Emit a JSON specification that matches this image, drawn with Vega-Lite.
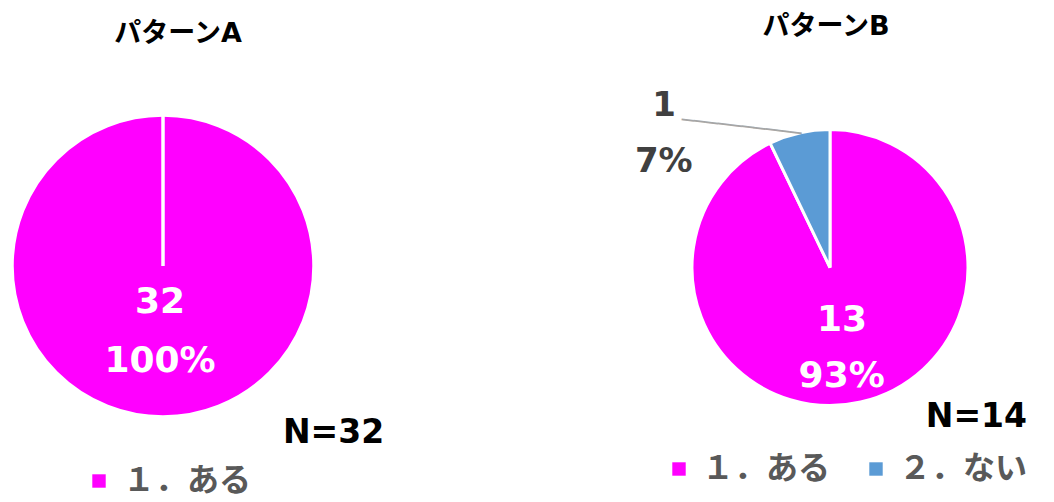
{
  "$schema": "https://vega.github.io/schema/vega-lite/v6.json",
  "padding": {"top": 13, "left": 0, "right": 0, "bottom": 4},
  "bounds": "flush",
  "spacing": 367,
  "config": {"view": {"stroke": null}},
  "datasets": {
    "A": [
      {"pattern": "パターンA", "cat": "１．ある", "n": 32, "pct": "100%"},
      {"pattern": "パターンA", "cat": "２．ない", "n": 0, "pct": "0%"}
    ],
    "B": [
      {"pattern": "パターンB", "cat": "１．ある", "n": 13, "pct": "93%"},
      {"pattern": "パターンB", "cat": "２．ない", "n": 1, "pct": "7%"}
    ]
  },
  "resolve": {"scale": {"color": "independent", "theta": "independent"}, "legend": {"color": "independent"}},
  "hconcat": [
    {
      "data": {"name": "A"},
      "width": 326,
      "height": 330,
      "title": {"text": "パターンA", "fontSize": 27, "font": "DejaVu Sans, Noto Sans CJK JP", "fontWeight": "bold", "color": "#000000", "baseline": "alphabetic", "offset": 32, "dx": 15, "anchor": "middle", "frame": "group"},
      "encoding": {
        "theta": {"field": "n", "type": "quantitative", "stack": "normalize"},
        "order": {"field": "cat", "type": "ordinal"}
      },
      "layer": [
        {
          "mark": {"type": "arc", "radius": 151, "stroke": "#ffffff", "strokeWidth": 3.5},
          "encoding": {
            "color": {
              "field": "cat", "type": "nominal",
              "scale": {"domain": ["１．ある", "２．ない"], "range": ["#FF00FF", "#5B9BD5"]},
              "legend": {
                "values": ["１．ある"], "orient": "none", "legendX": 83, "legendY": 364, "direction": "horizontal",
                "title": "N=32", "titleOrient": "right", "titleAnchor": "start", "titleAlign": "left", "titleBaseline": "line-bottom", "titleLineHeight": 63, "titlePadding": 32,
                "titleFont": "DejaVu Sans", "titleFontSize": 33, "titleFontWeight": "bold", "titleColor": "#000000",
                "symbolType": "square", "symbolSize": 180, "symbolStrokeWidth": 0,
                "labelFont": "Noto Sans CJK JP", "labelFontSize": 32, "labelFontWeight": "bold", "labelColor": "#595959", "labelOffset": 8, "labelLimit": 400, "padding": 0
              }
            }
          }
        },
        {
          "mark": {"type": "text", "radius": 36, "dx": -3, "fontSize": 36, "fontWeight": "bold", "font": "DejaVu Sans", "fill": "#ffffff", "baseline": "middle"},
          "encoding": {"text": {"condition": {"test": "datum.cat === '１．ある'", "field": "n", "type": "quantitative"}, "value": ""}}
        },
        {
          "mark": {"type": "text", "radius": 95, "dx": -3, "fontSize": 36, "fontWeight": "bold", "font": "DejaVu Sans", "fill": "#ffffff", "baseline": "middle"},
          "encoding": {"text": {"condition": {"test": "datum.cat === '１．ある'", "field": "pct", "type": "nominal"}, "value": ""}}
        }
      ]
    },
    {
      "data": {"name": "B"},
      "width": 274,
      "height": 333,
      "title": {"text": "パターンB", "fontSize": 27, "font": "DejaVu Sans, Noto Sans CJK JP", "fontWeight": "bold", "color": "#000000", "baseline": "alphabetic", "offset": 27, "dx": -4, "anchor": "middle", "frame": "group"},
      "encoding": {
        "theta": {"field": "n", "type": "quantitative", "stack": "normalize"},
        "order": {"field": "cat", "type": "ordinal"}
      },
      "layer": [
        {
          "mark": {"type": "arc", "radius": 138, "stroke": "#ffffff", "strokeWidth": 3},
          "encoding": {
            "color": {
              "field": "cat", "type": "nominal",
              "scale": {"domain": ["１．ある", "２．ない"], "range": ["#FF00FF", "#5B9BD5"]},
              "legend": {
                "orient": "none", "legendX": -30, "legendY": 300, "direction": "horizontal",
                "title": "N=14", "titleOrient": "top", "titleAnchor": "end", "titleAlign": "right", "titleBaseline": "top", "titlePadding": 19,
                "titleFont": "DejaVu Sans", "titleFontSize": 33, "titleFontWeight": "bold", "titleColor": "#000000",
                "symbolType": "square", "symbolSize": 180, "symbolStrokeWidth": 0,
                "labelFont": "Noto Sans CJK JP", "labelFontSize": 32, "labelFontWeight": "bold", "labelColor": "#595959", "labelOffset": 7, "labelLimit": 400, "columnPadding": 29, "padding": 0
              }
            }
          }
        },
        {
          "mark": {"type": "text", "radius": 54, "fontSize": 36, "fontWeight": "bold", "font": "DejaVu Sans", "fill": "#ffffff", "baseline": "middle"},
          "encoding": {"text": {"condition": {"test": "datum.cat === '１．ある'", "field": "n", "type": "quantitative"}, "value": ""}}
        },
        {
          "mark": {"type": "text", "radius": 111, "dx": -13, "fontSize": 36, "fontWeight": "bold", "font": "DejaVu Sans", "fill": "#ffffff", "baseline": "middle"},
          "encoding": {"text": {"condition": {"test": "datum.cat === '１．ある'", "field": "pct", "type": "nominal"}, "value": ""}}
        },
        {
          "mark": {"type": "text", "radius": 165.6, "dx": -129, "fontSize": 34, "fontWeight": "bold", "font": "DejaVu Sans", "fill": "#404040", "baseline": "middle"},
          "encoding": {"text": {"condition": {"test": "datum.cat === '２．ない'", "field": "n", "type": "quantitative"}, "value": ""}}
        },
        {
          "mark": {"type": "text", "radius": 108.7, "dx": -142, "fontSize": 34, "fontWeight": "bold", "font": "DejaVu Sans", "fill": "#404040", "baseline": "middle"},
          "encoding": {"text": {"condition": {"test": "datum.cat === '２．ない'", "field": "pct", "type": "nominal"}, "value": ""}}
        },
        {
          "mark": {"type": "text", "radius": 144, "dx": -56, "dy": 6.5, "angle": 6.6, "fontSize": 20, "font": "DejaVu Sans", "fill": "#A6A6A6", "baseline": "middle"},
          "encoding": {"text": {"condition": {"test": "datum.cat === '２．ない'", "value": "──────────"}, "value": ""}}
        }
      ]
    }
  ]
}
